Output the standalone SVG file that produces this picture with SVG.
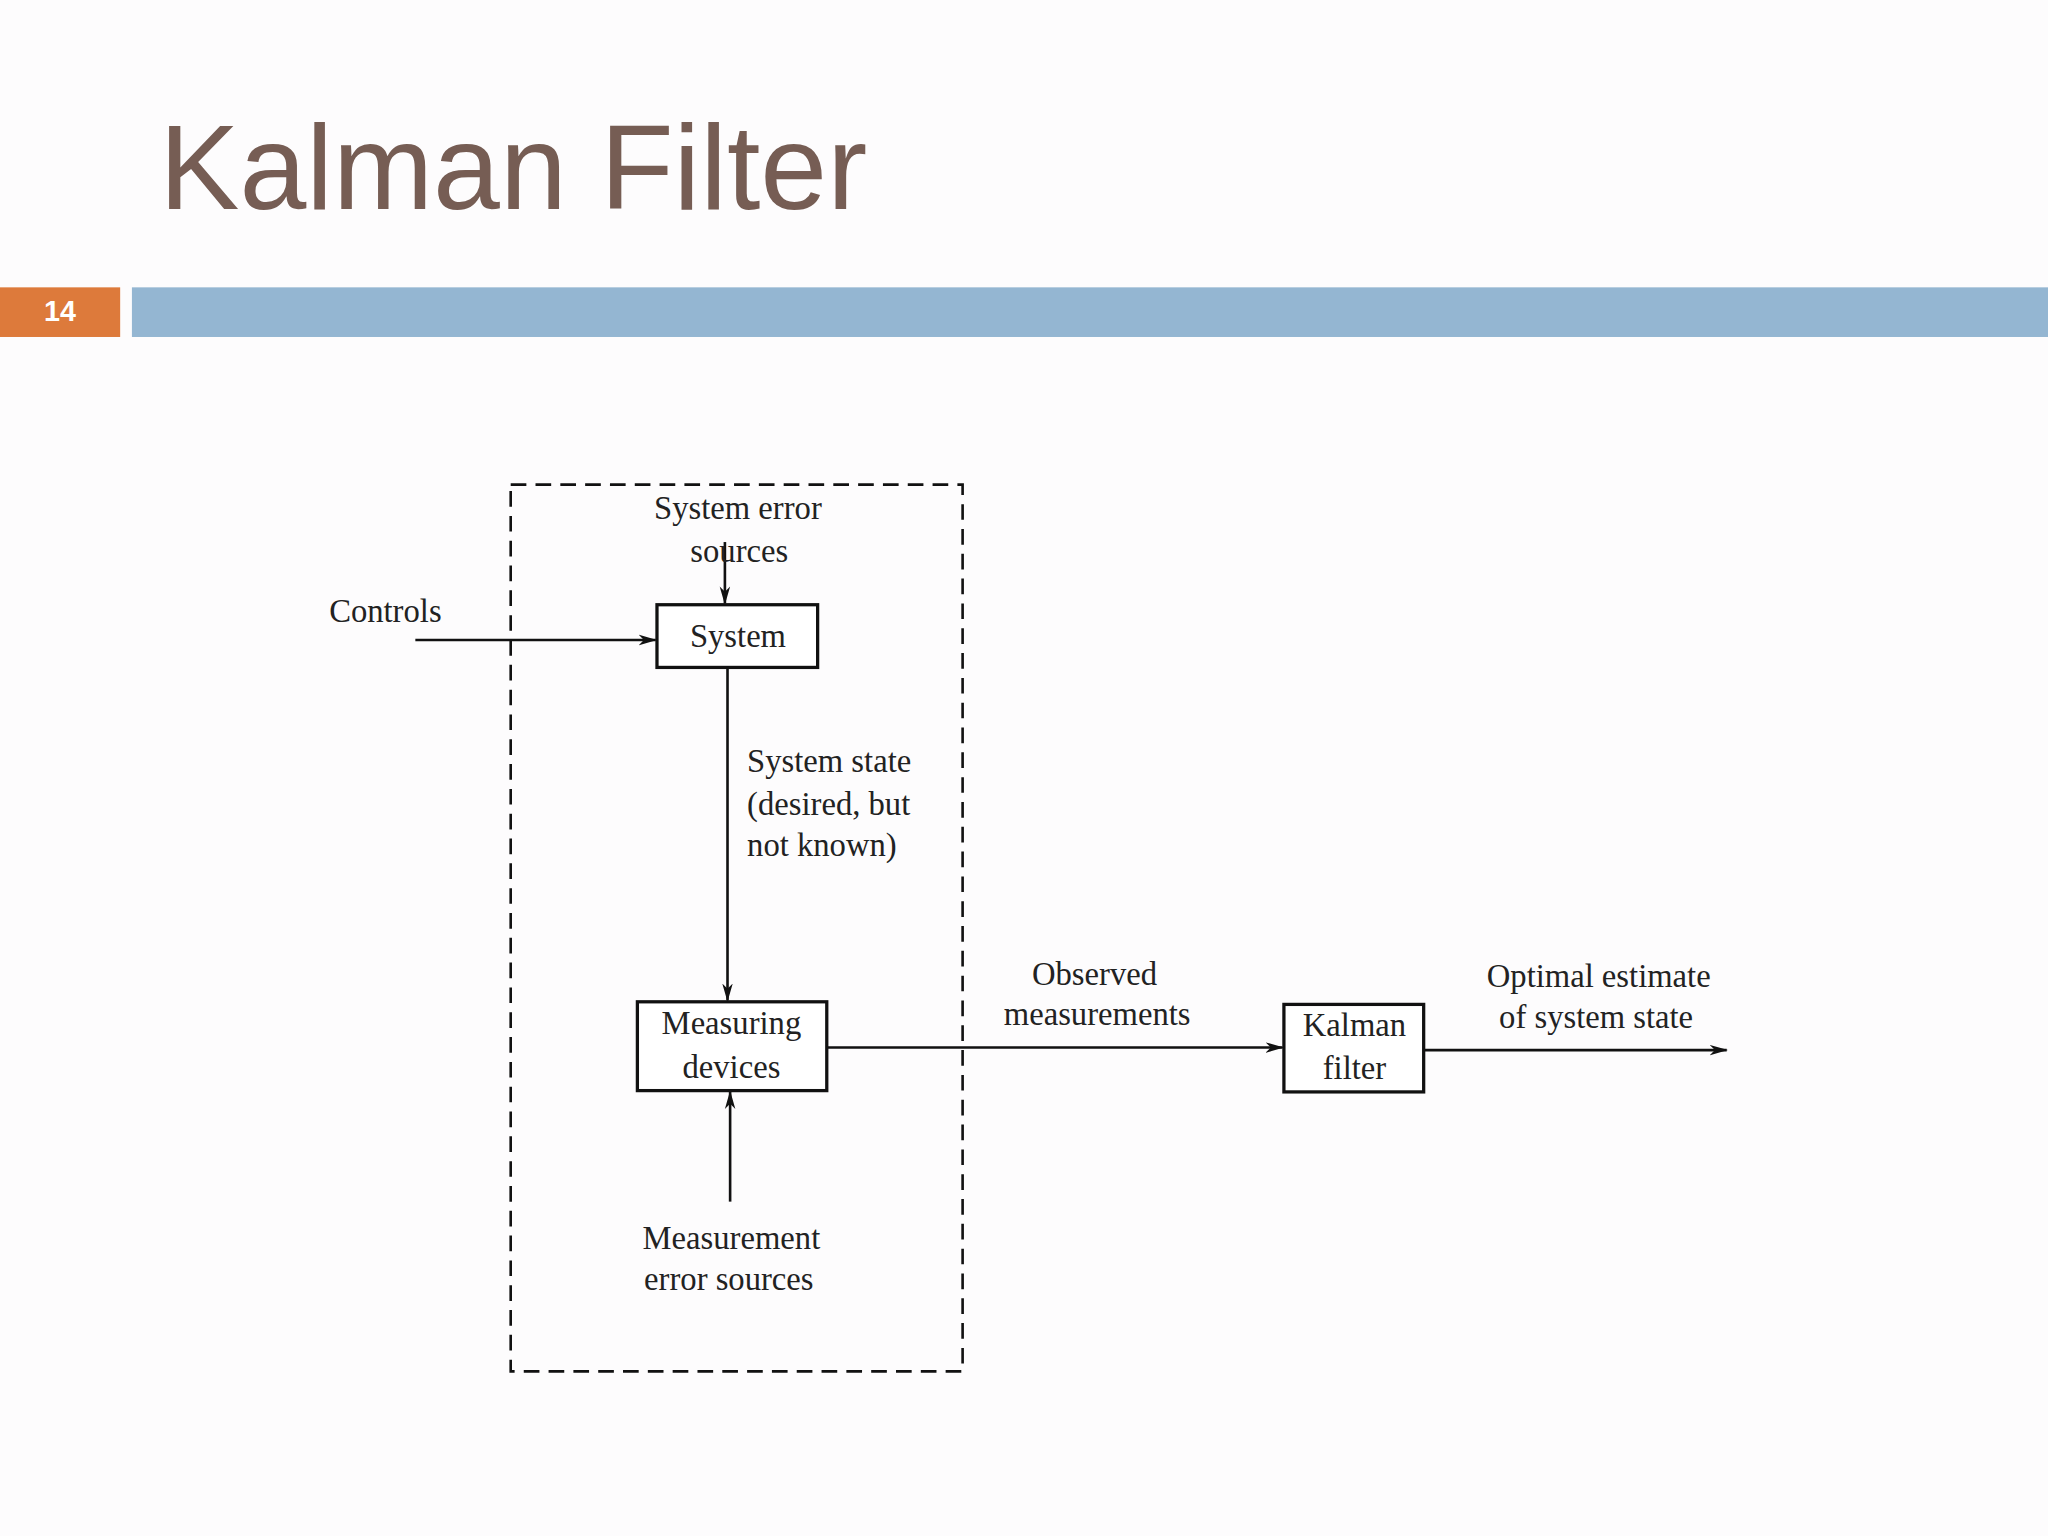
<svg xmlns="http://www.w3.org/2000/svg" width="2048" height="1536" viewBox="0 0 2048 1536">
<defs>
<style>
.t{font-family:"Liberation Serif","DejaVu Serif",serif;font-size:25px;fill:#222}
.b{fill:#fff;stroke:#111;stroke-width:2.5}
.l{stroke:#111;stroke-width:2;fill:none}
</style>
<marker id="a" markerWidth="14" markerHeight="10" refX="13" refY="5" orient="auto" markerUnits="userSpaceOnUse"><path d="M0,1 L14,5 L0,9 L4,5 Z" fill="#111"/></marker>
</defs>
<rect width="2048" height="1536" fill="#fdfcfd"/>
<g transform="scale(1.30612)">
<text x="122" y="160" font-family="Liberation Sans,Arial,sans-serif" font-size="92" fill="#765d54">Kalman Filter</text>
<rect x="0" y="220" width="92" height="38" fill="#dd7a3b"/>
<text x="46" y="246" text-anchor="middle" font-family="Liberation Sans,Arial,sans-serif" font-weight="bold" font-size="22" fill="#fff">14</text>
<rect x="101" y="220" width="1467" height="38" fill="#94b6d2"/>
<rect x="391" y="371" width="346" height="679" fill="none" stroke="#111" stroke-width="2" stroke-dasharray="12,7"/>
<g id="connectors">
<line class="l" x1="318" y1="490" x2="502" y2="490" marker-end="url(#a)"/>
<line class="l" x1="555" y1="415" x2="555" y2="462" marker-end="url(#a)"/>
<line class="l" x1="557" y1="511" x2="557" y2="766" marker-end="url(#a)"/>
<line class="l" x1="559" y1="920" x2="559" y2="836" marker-end="url(#a)"/>
<line class="l" x1="633" y1="802" x2="982" y2="802" marker-end="url(#a)"/>
<line class="l" x1="1090" y1="804" x2="1322" y2="804" marker-end="url(#a)"/>
</g>
<g id="system"><rect class="b" x="503" y="463" width="123" height="48"/><text class="t" x="565" y="495" text-anchor="middle">System</text></g>
<g id="measuring"><rect class="b" x="488" y="767" width="145" height="68"/><text class="t" x="560" y="792" text-anchor="middle">Measuring</text><text class="t" x="560" y="825" text-anchor="middle">devices</text></g>
<g id="kalman"><rect class="b" x="983" y="769" width="107" height="67"/><text class="t" x="1037" y="793" text-anchor="middle">Kalman</text><text class="t" x="1037" y="826" text-anchor="middle">filter</text></g>
<text class="t" x="565" y="397" text-anchor="middle">System error</text>
<text class="t" x="566" y="430" text-anchor="middle">sources</text>
<text class="t" x="252" y="476">Controls</text>
<text class="t" x="572" y="591">System state</text>
<text class="t" x="572" y="624">(desired, but</text>
<text class="t" x="572" y="655">not known)</text>
<text class="t" x="838" y="754" text-anchor="middle">Observed</text>
<text class="t" x="840" y="785" text-anchor="middle">measurements</text>
<text class="t" x="1224" y="756" text-anchor="middle">Optimal estimate</text>
<text class="t" x="1222" y="787" text-anchor="middle">of system state</text>
<text class="t" x="560" y="956" text-anchor="middle">Measurement</text>
<text class="t" x="558" y="988" text-anchor="middle">error sources</text>
</g>
</svg>
